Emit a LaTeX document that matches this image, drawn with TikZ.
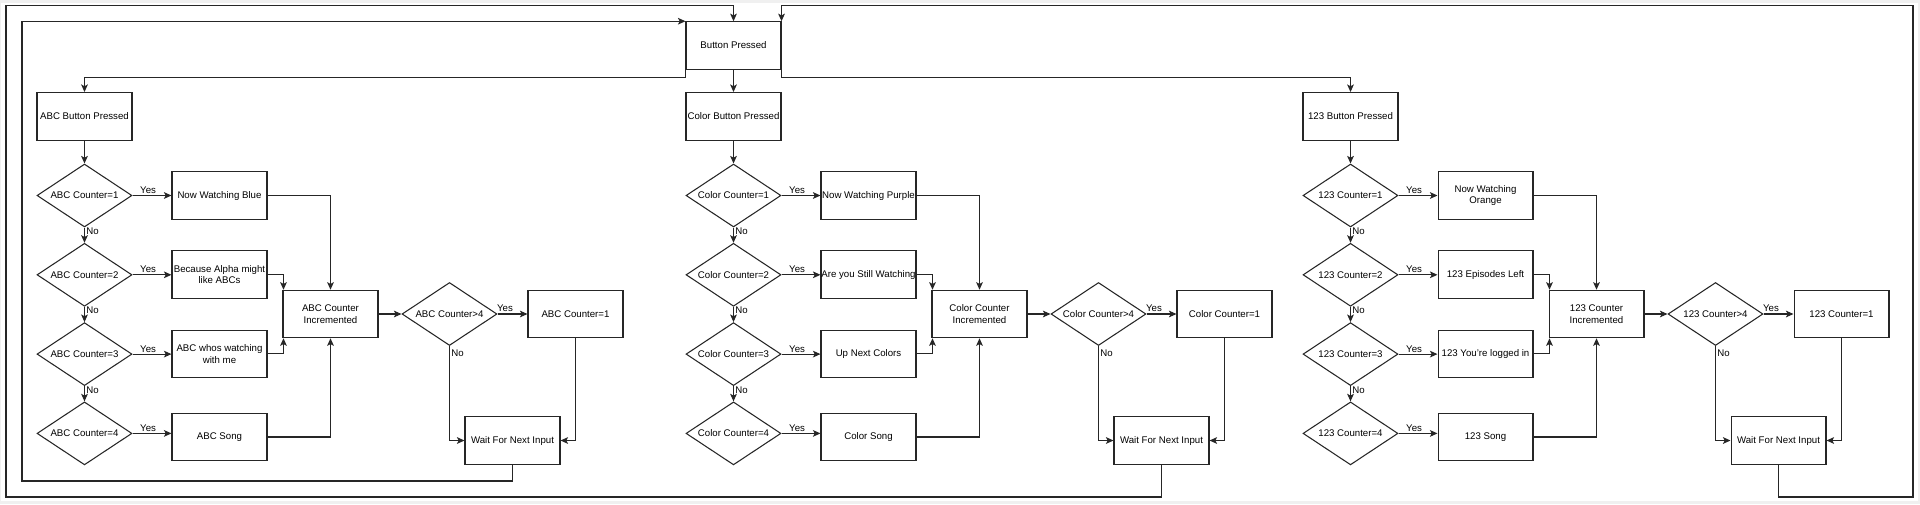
\documentclass[tikz,border=0pt]{standalone}
\usepackage{fontspec}
\setmainfont{Liberation Sans}
\usetikzlibrary{shapes.geometric,arrows.meta}

\begin{document}
\begin{tikzpicture}[x=0.02cm, y=-0.02cm, line width=0.6pt,
		font=\fontsize{5.5}{6.6}\selectfont,
		box/.style={draw=black!85, rectangle, minimum width=1.9cm, minimum height=0.95cm, inner sep=0pt, align=center},
		dia/.style={draw=black!85, diamond, aspect=1.5, minimum width=1.9cm, minimum height=1.26cm, inner sep=0pt},
		arr/.style={draw=black!85, -{Stealth[length=4.3pt, width=3.8pt, inset=1pt]}},
		yes/.style={above, inner sep=0.8pt, pos=0.4},
		no/.style={right, inner sep=0.8pt, pos=0.25}]
			\useasboundingbox (0,0) rectangle (1920,504);
			\fill[gray!12] (0,0) rectangle (1920,504);
			\fill[white] (1,3) rectangle (1918,501);
		
			\node[box] (bp) at (733.5,45.5) {Button Pressed};
		
			\foreach \c/\cx/\p/\ta/\tb/\tc/\td in {
				abc/84.5/ABC/{Now Watching Blue}/{Because Alpha might\\like ABCs}/{ABC whos watching\\with me}/{ABC Song},
				col/733.5/Color/{Now Watching Purple}/{Are you Still Watching}/{Up Next Colors}/{Color Song},
				num/1350.5/123/{Now Watching\\Orange}/{123 Episodes Left}/{123 You're logged in}/{123 Song}} {
				\node[box] (\c-top) at (\cx,116.3) {\p{} Button Pressed};
				\foreach \i/\y in {1/195.5,2/274.8,3/354.1,4/433.4}
					\node[dia] (\c-d\i) at (\cx,\y) {\p{} Counter=\i};
				
				\node[box] (\c-b1) at (\cx+135,195.5) {\ta};
				\node[box] (\c-b2) at (\cx+135,274.7) {\tb};
				\node[box] (\c-b3) at (\cx+135,353.8) {\tc};
				\node[box] (\c-b4) at (\cx+135,437) {\td};
				
				\node[box] (\c-in) at (\cx+246,314) {\p{} Counter\\Incremented};
				\node[dia] (\c-g) at (\cx+365,314) {\p{} Counter>4};
				\node[box] (\c-r) at (\cx+491,314) {\p{} Counter=1};
				\node[box] (\c-w) at (\cx+428,440.5) {Wait For Next Input};
				
				\draw[arr] (\c-top) -- (\c-d1);
				\foreach \i/\j in {1/2,2/3,3/4}
					\draw[arr] (\c-d\i) -- node[no] {No} (\c-d\j);
				\foreach \i in {1,2,3,4}
					\draw[arr] (\c-d\i.east) -- node[yes] {Yes} (\c-d\i.east -| \c-b\i.west);
				
				\draw[arr] (\c-b1) -| (\c-in);
				\draw[arr] (\c-b2) -| ([xshift=0.02cm]\c-in.north west);
				\draw[arr] (\c-b3) -| ([xshift=0.02cm]\c-in.south west);
				\draw[arr] (\c-b4) -| (\c-in);
				
				\draw[arr] (\c-in) -- (\c-g);
				\draw[arr] (\c-g) -- node[yes, pos=0.25] {Yes} (\c-r);
				\draw[arr] (\c-g) |- node[no, pos=0.04] {No} (\c-w);
				\draw[arr] (\c-r) |- (\c-w);
			}
			
			\draw[arr] (bp) -- (col-top);
			\draw[arr] (bp.south west) -- ++(0,7.4) -| (abc-top);
			\draw[arr] (bp.south east) -- ++(0,7.4) -| (num-top);
			
			% loops back to the start
			\draw[arr] (abc-w) |- (22,481) |- (bp.north west);
			\draw[arr] (col-w) |- (6,497) -- (6,5.7) -| (bp);
			\draw[arr] (num-w) |- (1913,497) -- (1913,5.7) -| (bp.north east);
		\end{tikzpicture}
\end{document}
